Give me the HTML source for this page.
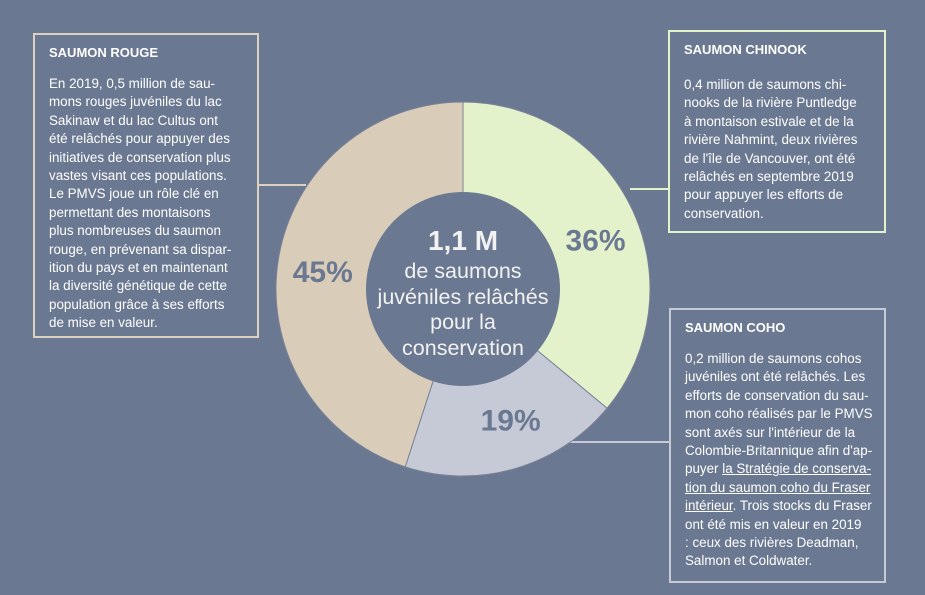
<!DOCTYPE html>
<html><head><meta charset="utf-8"><style>
body{margin:0;width:925px;height:595px;background:#6b7891;overflow:hidden;font-family:"Liberation Sans",sans-serif;position:relative}
.box{position:absolute;box-sizing:border-box;border:2px solid;color:#fff;font-size:13.4px;line-height:18.4px}
.box h3{margin:0;font-size:13px;font-weight:bold;line-height:16px;position:absolute;left:14px;top:10px}
.box .t{position:absolute;left:14px;top:40px;white-space:nowrap}
.ln{position:absolute;height:2px}
u{text-decoration:underline}
</style></head><body>
<div class="box" style="left:33px;top:33px;width:226px;height:305px;border-color:#dcd1bf">
<h3>SAUMON ROUGE</h3>
<div class="t">En 2019, 0,5 million de sau-<br>mons rouges juvéniles du lac<br>Sakinaw et du lac Cultus ont<br>été relâchés pour appuyer des<br>initiatives de conservation plus<br>vastes visant ces populations.<br>Le PMVS joue un rôle clé en<br>permettant des montaisons<br>plus nombreuses du saumon<br>rouge, en prévenant sa dispar-<br>ition du pays et en maintenant<br>la diversité génétique de cette<br>population grâce à ses efforts<br>de mise en valeur.</div></div>
<div class="box" style="left:668px;top:30px;width:218px;height:203px;border-color:#e4f2cb">
<h3>SAUMON CHINOOK</h3>
<div class="t" style="top:44px">0,4 million de saumons chi-<br>nooks de la rivière Puntledge<br>à montaison estivale et de la<br>rivière Nahmint, deux rivières<br>de l'île de Vancouver, ont été<br>relâchés en septembre 2019<br>pour appuyer les efforts de<br>conservation.</div></div>
<div class="box" style="left:669px;top:308px;width:217px;height:275px;border-color:#c6cad6">
<h3>SAUMON COHO</h3>
<div class="t">0,2 million de saumons cohos<br>juvéniles ont été relâchés. Les<br>efforts de conservation du sau-<br>mon coho réalisés par le PMVS<br>sont axés sur l'intérieur de la<br>Colombie-Britannique afin d'ap-<br>puyer <u>la Stratégie de conserva-<br>tion du saumon coho du Fraser<br>intérieur</u>. Trois stocks du Fraser<br>ont été mis en valeur en 2019<br>: ceux des rivières Deadman,<br>Salmon et Coldwater.</div></div>
<div class="ln" style="left:258px;top:184px;width:48px;background:#dcd1bf"></div>
<div class="ln" style="left:630px;top:188px;width:39px;background:#e4f2cb"></div>
<div class="ln" style="left:565px;top:441px;width:104px;background:#c6cad6"></div>
<svg id="ch" width="925" height="595" style="position:absolute;left:0;top:0"></svg>
<script>
const categories=["Chinook","Coho","Rouge"];
const values=[36,19,45];
const labels=["36%","19%","45%"];
const colors=["#e4f2cb","#c6cad6","#d9cdb9"];
const svg=document.getElementById('ch');const NS="http://www.w3.org/2000/svg";
const cx=463,cy=289,R=187,r=97;
const nudge=[[4,22],[8,5],[0,15]];
const total=values.reduce((a,b)=>a+b,0);
function pt(a,rad){return [cx+rad*Math.sin(a),cy-rad*Math.cos(a)];}
let a0=0;
values.forEach((v,i)=>{
 const a1=a0+v/total*2*Math.PI;
 const [x0,y0]=pt(a0,R),[x1,y1]=pt(a1,R);
 const p=document.createElementNS(NS,'path');
 p.setAttribute('d',`M${cx},${cy}L${x0},${y0}A${R},${R} 0 ${a1-a0>Math.PI?1:0} 1 ${x1},${y1}Z`);
 p.setAttribute('fill',colors[i]);p.setAttribute('stroke','#7a8296');p.setAttribute('stroke-width','1');
 
 
 svg.appendChild(p);
 const m=(a0+a1)/2;const [lx,ly]=pt(m,142);
 const t=document.createElementNS(NS,'text');
 t.setAttribute('x',lx+nudge[i][0]);t.setAttribute('y',ly+nudge[i][1]);t.setAttribute('text-anchor','middle');
 t.setAttribute('font-size','30');t.setAttribute('font-weight','bold');t.setAttribute('fill','#6b7891');
 t.setAttribute('font-family','Liberation Sans, sans-serif');
 t.textContent=labels[i];
 
 
 svg.appendChild(t);
 a0=a1;
});
const c=document.createElementNS(NS,'circle');
c.setAttribute('cx',cx);c.setAttribute('cy',cy);c.setAttribute('r',r);c.setAttribute('fill','#6b7891');


svg.appendChild(c);
const center=[["1,1 M",250,28,"bold"],["de saumons",278,21.5,"normal"],["juvéniles relâchés",304,21.5,"normal"],["pour la",329,21.5,"normal"],["conservation",355,21.5,"normal"]];
center.forEach((l,i)=>{const t=document.createElementNS(NS,'text');
 t.setAttribute('x',cx);t.setAttribute('y',l[1]);t.setAttribute('text-anchor','middle');t.setAttribute('font-size',l[2]);
 t.setAttribute('font-weight',l[3]);t.setAttribute('fill','#f2f2f2');t.setAttribute('font-family','Liberation Sans, sans-serif');
 t.textContent=l[0];
 
 
 svg.appendChild(t);});
</script>
</body></html>
